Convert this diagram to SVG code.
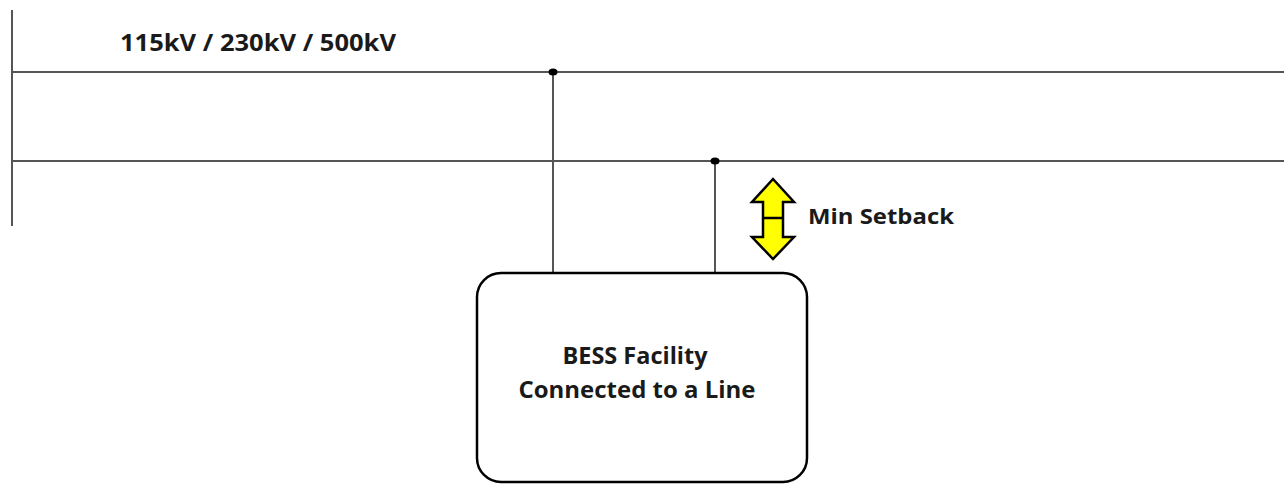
<svg xmlns="http://www.w3.org/2000/svg" width="1284" height="484" viewBox="0 0 1284 484">
<style>
.ln{stroke:#555;stroke-width:2;fill:none}
.t{font-family:"Open Sans","Liberation Sans",sans-serif;font-weight:bold;fill:#1a1a1a}
</style>
<rect width="1284" height="484" fill="#fff"/>
<g id="bus">
<line class="ln" x1="12" y1="10" x2="12" y2="226"/>
<line class="ln" x1="12" y1="72" x2="1284" y2="72"/>
<line class="ln" x1="12" y1="161" x2="1284" y2="161"/>
<text class="t" x="120" y="51" font-size="24" textLength="276" lengthAdjust="spacingAndGlyphs">115kV / 230kV / 500kV</text>
</g>
<g id="connectors">
<line class="ln" x1="553" y1="72" x2="553" y2="273"/>
<ellipse cx="553" cy="72" rx="4.5" ry="3.5" fill="#000"/>
<line class="ln" x1="715" y1="161" x2="715" y2="277"/>
<ellipse cx="715" cy="161" rx="4.5" ry="3.5" fill="#000"/>
</g>
<g id="bess">
<rect x="477" y="273" width="330" height="209" rx="24" ry="24" fill="#fff" stroke="#000" stroke-width="2.5"/>
<text class="t" x="635" y="364" font-size="23" text-anchor="middle" textLength="145" lengthAdjust="spacingAndGlyphs">BESS Facility</text>
<text class="t" x="637" y="398" font-size="23" text-anchor="middle" textLength="237" lengthAdjust="spacingAndGlyphs">Connected to a Line</text>
</g>
<g id="setback">
<path d="M773 179 L794 202 L783 202 L783 237 L794 237 L773 259 L752 237 L763 237 L763 202 L752 202 Z" fill="#ffff00" stroke="#000" stroke-width="2.5" stroke-linejoin="miter"/>
<line x1="763" y1="218" x2="783" y2="218" stroke="#000" stroke-width="2.5"/>
<text class="t" x="808" y="224" font-size="21" textLength="146" lengthAdjust="spacingAndGlyphs">Min Setback</text>
</g>
</svg>
